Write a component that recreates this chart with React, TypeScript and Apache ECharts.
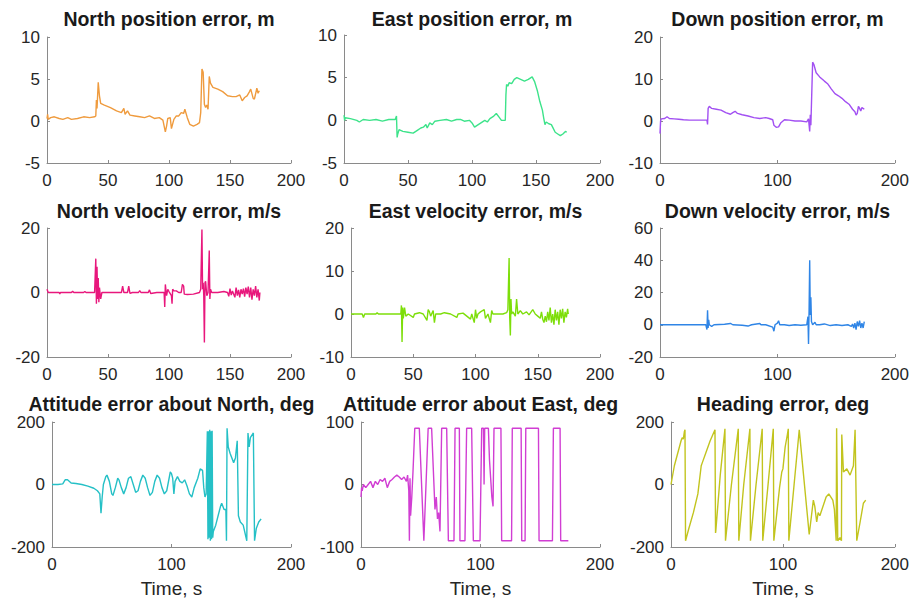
import React, { useEffect, useRef } from "react";
import * as echarts from "echarts";

// ---------- data: [time s, value] ----------
const northPos = [[0,0.3],[0.5,0.8],[1,0.2],[3,0.4],[6,0.5],[10,0.3],[13,0.2],[17,0.4],[20,0.2],[25,0.3],[30,0.5],[35,0.4],[39,0.5],[40,0.6],[40.5,2.5],[41,1.5],[42,4.6],[43,3],[44,2.1],[47,1.9],[52,1.6],[57,1.2],[61,1],[63,1.5],[64,0.8],[66,1.2],[68,0.7],[72,0.6],[76,0.5],[80,0.4],[84,0.6],[88,0.3],[92,0.4],[95,0.1],[97,-1.3],[98,-0.6],[99,0.3],[101,0.4],[102,-0.9],[104,0.2],[106,0.6],[108,0.6],[110,1],[112,0.9],[113,1.4],[115,0.4],[117,-0.4],[120,-0.6],[123,-0.4],[125,-0.2],[126,1],[127,6.2],[128,5.8],[129,2],[130,1.6],[131,1.9],[132,1.4],[133,5.3],[134,4.5],[136,4],[140,3.8],[144,3.5],[148,3],[152,2.9],[155,2.9],[158,3.1],[160,2.4],[162,2.8],[164,3.0],[166,3.5],[167,3.8],[169,2.7],[170,2.6],[172,3.9],[173,3.3],[174,3.6]];
const eastPos = [[0,0.6],[0.5,0],[1,0.3],[5,0.2],[10,0],[12,-0.2],[15,0.1],[20,0],[25,0.1],[30,-0.1],[35,0.1],[40,0.1],[41,0.5],[41.5,-2],[42,-1.6],[43,-1.1],[46,-1.3],[50,-1.4],[54,-1.5],[57,-1.2],[60,-0.9],[62,-0.8],[64,-0.5],[65,-0.9],[67,-0.3],[69,-0.5],[71,-0.1],[75,0],[80,0.1],[84,-0.1],[88,0.1],[91,0.1],[94,-0.1],[98,0],[100,-0.3],[102,-0.8],[104,-0.6],[107,-0.3],[110,0],[112,-0.2],[114,0.2],[117,0.5],[119,0.8],[121,0.4],[123,0],[125,0],[126,0],[126.5,3],[127,4.2],[128,4],[129,4.4],[131,4.3],[133,4.8],[135,5],[138,4.8],[141,4.6],[144,4.8],[147,5.1],[149,4.5],[151,3.5],[153,2.2],[155,1.2],[156,0.3],[157,-0.5],[158,-0.2],[160,-0.4],[162,-0.5],[163,-0.8],[165,-1.4],[167,-1.6],[169,-1.8],[171,-1.6],[173,-1.3],[174,-1.4]];
const downPos = [[0,-3],[0.5,0],[1,0.5],[4,0.6],[6,1],[8,0.6],[12,0.5],[16,0.4],[20,0.3],[25,0.2],[30,0.2],[35,0.2],[40,0.2],[40.5,-0.8],[41,3],[42,3.5],[44,3],[48,2.8],[52,2.6],[56,2],[60,1.6],[62,2],[64,2.3],[66,1.8],[70,1.5],[75,1.2],[80,0.8],[85,0.6],[90,0.8],[93,0.6],[96,0.3],[97,-1],[99,-1.5],[101,-1.4],[103,-0.4],[106,0.3],[110,0.2],[115,0],[120,0],[125,-0.2],[126.5,0.5],[127.5,-2.5],[128,1.5],[128.5,-1],[130,14],[131,13.5],[133,11.5],[136,10.5],[140,9.5],[143,8.8],[146,7.6],[149,6.5],[152,6],[155,5.4],[158,4.6],[161,4],[164,2.8],[166,2.2],[167,1.4],[168,1.8],[169,3.5],[170,3],[171,2.4],[172,3.2],[174,2.8]];
const northVel = [[0,1],[1,0],[10,0],[10.5,-0.5],[11,0],[20,0],[21,0.4],[22,0],[30,0],[31,0.3],[32,0],[39,0],[40,10.5],[40.5,-3.5],[41,8],[41.5,-2],[42,4.5],[42.5,-3],[43,1.5],[44,-2],[45,0],[50,0],[55,0],[61,0],[62,2],[63,0],[66,0],[67,2],[68,-0.3],[70,0],[75,0],[76,0.6],[77,0],[83,0],[84,0.8],[85,-0.3],[90,0],[96,0],[96.5,-4.5],[97,2.5],[98,-1],[99,1],[100,0.3],[102,-1],[102.5,-3.5],[103,1],[104,0.5],[106,0.5],[108,0],[110,0],[111,2.5],[112,2],[112.5,-0.5],[115,-0.6],[120,-0.5],[125,0],[126,1],[127,19.5],[127.5,1],[128,3],[128.5,-1],[129,-15.5],[129.5,3],[130,3.5],[131,-1],[132,0],[133,13],[133.5,-2],[134,1],[135,0],[140,0],[145,0.3],[148,0],[149,-1.2],[150,1.2],[151,-0.8],[152,0.5],[154,-1.5],[155,1.5],[156,-1],[157,0.8],[158,-1.5],[159,1],[160,-0.5],[161,1.2],[162,-1.3],[163,1.5],[164,-0.5],[165,1.8],[166,-1.5],[167,1.5],[168,-2.2],[169,1],[170,-1],[171,2],[172,-1.5],[173,1],[174,-2.5],[174.5,0]];
const eastVel = [[0,0],[5,0],[9,0],[10,-0.8],[11,0],[20,0],[21,0.3],[22,0],[30,0],[38,0],[40,0],[40.5,2],[41,-6.5],[41.5,1.5],[42,-1],[43,1.5],[44,-0.5],[46,0],[50,-0.8],[51,0],[55,0.3],[58,0],[61,-1.5],[62,1],[63,0.5],[64,-0.5],[66,0.8],[67,-2],[68,0],[72,0],[75,0.3],[80,0],[85,-0.8],[86,0],[90,0.2],[96,-1.2],[97,0],[99,-2],[100,1],[101,-1],[102,0],[104,0.5],[107,1],[108,-1],[110,0],[112,-2],[113,0.8],[114,0],[118,0],[122,0],[125,0.3],[126,1],[127,13],[127.5,-1],[128,-5],[128.5,3.5],[129,0],[130,0.5],[132,-0.5],[133,3.5],[134,0],[136,0.8],[138,0],[141,0.5],[143,-0.2],[146,1],[148,0],[150,-0.5],[152,-1],[153,0.5],[154,-1.2],[155,-2],[156,-0.5],[157,-1.8],[158,0.5],[159,-1.5],[160,1.5],[161,-2],[162,0],[163,-2.5],[164,1],[165,-1.5],[166,0.5],[167,-2.5],[168,1],[169,-1],[170,1.2],[171,-2],[172,0.5],[173,-0.8],[174,1.2],[174.5,0]];
const downVel = [[0,0],[10,0],[20,0],[30,0],[39,0],[40,-3],[40.5,9],[41,-2],[41.5,3],[42,0],[44,-1],[46,0],[55,0.3],[60,0.8],[62,0],[70,-0.3],[75,-0.8],[78,0],[85,0.8],[86,0],[90,0],[96,-1.5],[97,-4],[98,0],[100,1],[101,2.5],[102,0],[106,0],[110,-0.5],[115,0],[120,-0.3],[125,0],[126,5],[126.5,-12],[127,10],[127.5,40],[128,6],[128.5,17],[129,2],[130,0],[132,1.5],[133,0],[136,0],[140,0.5],[145,-0.5],[150,0],[155,-0.5],[160,0],[163,-1],[164,0.5],[165,-2],[166,1],[167,-3],[168,2],[169,-1],[170,2.5],[171,-2],[172,1],[173,-2],[174,2]];
const attNorth = [[0,0],[5,0],[9,2],[11,15],[13,15],[16,5],[20,3],[25,0],[30,-5],[35,-12],[38,-20],[40,-30],[41,-92],[42,-40],[43,0],[45,25],[46,30],[48,10],[50,-30],[51,-35],[53,-10],[55,20],[56,15],[58,-10],[60,-30],[62,-10],[64,20],[66,25],[68,0],[70,-25],[72,-20],[74,10],[76,30],[78,20],[80,-10],[82,-35],[84,-25],[86,10],[88,30],[90,20],[92,-10],[94,-30],[96,-20],[98,20],[99,40],[100,35],[101,20],[102,-30],[103,10],[105,25],[107,10],[109,5],[111,15],[113,-5],[115,-30],[117,-40],[119,-10],[122,20],[124,50],[126,45],[127,-10],[128,-40],[129,-30],[130,170],[130.5,-175],[131,170],[131.5,-170],[132,175],[132.5,-180],[133,170],[133.5,-175],[134,172],[134.5,-170],[135,-150],[137,-130],[139,-100],[141,-70],[142,-60],[144,-80],[145.5,-80],[146,-180],[146.5,180],[147.5,120],[149,100],[152,70],[153.5,85],[155,140],[156,-100],[157.6,-120],[160,-130],[163,-180],[164,165],[165,120],[166,150],[168.5,165],[169.5,-180],[171,-140],[173,-120],[175,-110]];
const attEast = [[0,-20],[0.5,-5],[1,-10],[2,0],[4,-5],[6,0],[8,5],[10,-5],[12,5],[14,0],[16,8],[18,5],[20,10],[22,-5],[24,5],[26,8],[28,12],[30,15],[32,12],[34,8],[36,12],[38,5],[39,15],[40,-10],[40.5,-90],[41,10],[41.5,-50],[42.5,-20],[43.5,20],[45,90],[48.8,90],[52.6,-90],[56.2,90],[59.1,90],[61.9,-40],[63,-20],[64,-55],[65,-45],[66.1,-75],[67.5,90],[71.7,90],[73.1,-90],[77.8,-90],[78.7,90],[82.3,90],[82.8,-90],[87,-90],[88.4,90],[92.6,90],[94,-90],[99.6,-90],[101,90],[102.5,90],[103,0],[103.5,90],[106.6,90],[107.5,40],[108.5,10],[109.5,-20],[110.5,-35],[111.3,90],[117.1,90],[117.7,-90],[126,-90],[126.6,90],[134,90],[134.5,-90],[137.3,-90],[137.9,90],[148.5,90],[149,-90],[160.2,-90],[161,90],[166.6,90],[167.1,-90],[173.5,-90]];
const heading = [[0,0],[1,20],[3,60],[6,100],[9,140],[10,150],[11,145],[12,170],[12.5,175],[13,-180],[16,-140],[20,-90],[24,-30],[27,60],[28,70],[31,100],[35,140],[39.3,175],[39.8,-155],[40,-150],[44,30],[48.2,178],[48.7,-180],[54,0],[60.1,178],[60.6,-180],[65,0],[70.5,178],[71,-180],[76,0],[81.5,178],[82,-180],[87,10],[91.4,178],[91.9,-180],[97,-10],[99,40],[100,50],[102,120],[104,160],[104.8,178],[105.3,-180],[110,0],[114.6,175],[123.5,-160],[127.2,-50],[128.5,-70],[130.2,-120],[131.5,-90],[133,-100],[138.6,-40],[141,-30],[144.6,-50],[146,-80],[147.6,-180],[148,180],[149,-180],[151,-170],[152.3,-180],[152.6,160],[154.1,40],[157.1,50],[160,30],[163,60],[164.5,175],[166,-180],[169,-120],[171.9,-60],[174,-50]];

const titles = [
  "North position error, m", "East position error, m", "Down position error, m",
  "North velocity error, m/s", "East velocity error, m/s", "Down velocity error, m/s",
  "Attitude error about North, deg", "Attitude error about East, deg", "Heading error, deg",
];
const seriesData = [northPos, eastPos, downPos, northVel, eastVel, downVel, attNorth, attEast, heading];
const yMin = [-5, -5, -10, -20, -10, -20, -200, -100, -200];
const yMax = [10, 10, 20, 20, 20, 60, 200, 100, 200];
const yStep = [5, 5, 10, 20, 10, 20, 200, 100, 200];
const xStep = [50, 50, 100, 50, 50, 100, 100, 100, 100];
const xLabel = "Time, s";

// ---------- layout / style ----------
const colors = ["#EF9B3E", "#3DE38A", "#A250F2", "#E8177C", "#7DDE0A", "#2F85E6", "#25C0C6", "#D13ED3", "#C2C41E"];
const grids = [
  { left: 47, top: 37, width: 244, height: 126 },
  { left: 344, top: 35, width: 256, height: 128 },
  { left: 660, top: 37, width: 235, height: 126 },
  { left: 47, top: 228, width: 244, height: 129 },
  { left: 351, top: 228, width: 249, height: 129 },
  { left: 660, top: 228, width: 235, height: 129 },
  { left: 52, top: 422, width: 239, height: 125 },
  { left: 361, top: 422, width: 239, height: 125 },
  { left: 671, top: 422, width: 224, height: 125 },
];
const titleTops = [9, 9, 9, 201, 201, 201, 394, 394, 394];

const FONT = "'Liberation Sans', Arial, Helvetica, sans-serif";
const AXIS_GRAY = "#8a8a8a";
const TEXT = "#262626";

export default function App() {
  const ref = useRef<HTMLDivElement>(null);
  useEffect(() => {
    if (!ref.current) return;
    const chart = echarts.init(ref.current, null, { renderer: "svg" });
    const axisCommon = {
      axisLine: { show: true, onZero: false, lineStyle: { color: AXIS_GRAY, width: 1 } },
      axisTick: { show: true, inside: true, length: 3, lineStyle: { color: AXIS_GRAY } },
      splitLine: { show: false },
      axisLabel: { color: TEXT, fontSize: 17, fontFamily: FONT },
    };
    const option: any = {
      animation: false,
      backgroundColor: "#ffffff",
      title: titles.map((t, i) => ({
        text: t,
        left: grids[i].left + grids[i].width / 2,
        top: titleTops[i],
        textAlign: "center",
        padding: 0,
        textStyle: { fontSize: 19.5, fontWeight: "bold", color: "#1a1a1a", fontFamily: FONT },
      })),
      grid: grids.map((g) => ({ ...g, containLabel: false })),
      xAxis: grids.map((_, i) => ({
        type: "value",
        gridIndex: i,
        min: 0,
        max: 200,
        interval: xStep[i],
        ...axisCommon,
        axisLabel: { ...axisCommon.axisLabel, margin: 9 },
        name: i >= 6 ? xLabel : "",
        nameLocation: "middle",
        nameGap: 32,
        nameTextStyle: { fontSize: 19, color: TEXT, fontFamily: FONT },
      })),
      yAxis: grids.map((_, i) => ({
        type: "value",
        gridIndex: i,
        min: yMin[i],
        max: yMax[i],
        interval: yStep[i],
        ...axisCommon,
        axisLabel: { ...axisCommon.axisLabel, margin: 7 },
      })),
      series: seriesData.map((d, i) => ({
        type: "line",
        xAxisIndex: i,
        yAxisIndex: i,
        data: d,
        showSymbol: false,
        symbol: "none",
        lineStyle: { color: colors[i], width: 1.4 },
        clip: true,
      })),
    };
    chart.setOption(option);
    return () => chart.dispose();
  }, []);
  return (
    <div
      ref={ref}
      style={{ position: "absolute", left: 0, top: 0, width: 912, height: 602, background: "#fff" }}
    />
  );
}
